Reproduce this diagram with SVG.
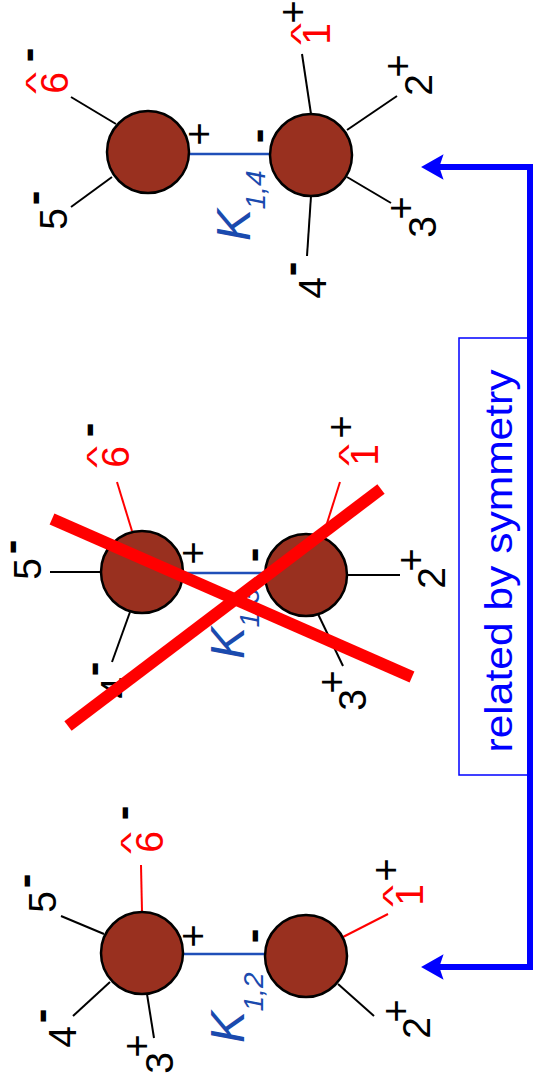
<svg xmlns="http://www.w3.org/2000/svg" width="533" height="1084" viewBox="0 0 533 1084">
<defs>
<style>
.blob{fill:#99301f;stroke:#000;stroke-width:2.5}
.leg{stroke:#000;stroke-width:2;fill:none}
.legr{stroke:#f00;stroke-width:2;fill:none}
.kline{stroke:#1f4fb8;stroke-width:2.5;fill:none}
.t{font-family:"Liberation Sans",Arial,sans-serif;text-anchor:middle;fill:#000}
.d{font-size:39px}
.red{fill:#f00}
.p{font-size:40px}
.m{font-size:44px;font-weight:bold}
.hat{font-size:36px;fill:#f00}
.K{font-size:48px;font-style:italic;fill:#1a4aae}
.sub{font-size:28px;font-style:italic;fill:#1a4aae}
.cross{stroke:#f00;stroke-width:12;stroke-linecap:butt}
.sym{font-size:38px;fill:#00f}
</style>
<marker id="ah" markerUnits="userSpaceOnUse" markerWidth="30" markerHeight="30" viewBox="-2 -14 26 28" refX="8" refY="0" orient="auto-start-reverse">
<path d="M21,0 L0,-12 L4,0 L0,12 Z" fill="#00f"/>
</marker>
</defs>
<rect width="533" height="1084" fill="#fff"/>

<g id="connectors">
<rect x="459" y="338" width="71" height="437" fill="#fff" stroke="#00f" stroke-width="1.5"/>
<path d="M435,167 H530 V967 H435" fill="none" stroke="#00f" stroke-width="6" marker-start="url(#ah)" marker-end="url(#ah)"/>
<line class="kline" x1="189" y1="154" x2="270" y2="154"/>
<line class="kline" x1="183" y1="573" x2="265" y2="573"/>
<line class="kline" x1="183" y1="954" x2="265" y2="954"/>
</g>
<text class="t sym" transform="translate(512,561) rotate(-90)" textLength="383" lengthAdjust="spacingAndGlyphs">related by symmetry</text>

<!-- Top diagram K1,4 -->
<g id="diagA">
<g id="A1">
<line class="leg" x1="71" y1="97" x2="116" y2="124"/>
<line class="leg" x1="71" y1="207" x2="112" y2="177"/>
<circle class="blob" cx="148" cy="152" r="41"/>
<text class="t d red" transform="translate(54,83) rotate(-90)" y="14">6</text>
<text class="t hat" transform="translate(31,83) rotate(-90) scale(1.3,0.75)" y="18">^</text>
<text class="t m" transform="translate(30,55) rotate(-90)" y="12">-</text>
<text class="t d" transform="translate(53,219) rotate(-90)" y="14">5</text>
<text class="t m" transform="translate(36,198) rotate(-90)" y="12">-</text>
<text class="t p" transform="translate(199,134) rotate(-90)" y="14">+</text>
</g>
<g id="A2">
<line class="leg" x1="302" y1="54" x2="311" y2="114"/>
<line class="leg" x1="347" y1="130" x2="397" y2="96"/>
<line class="leg" x1="347" y1="177" x2="391" y2="203"/>
<line class="leg" x1="311" y1="196" x2="307" y2="256"/>
<circle class="blob" cx="311" cy="155" r="41"/>
<text class="t d red" transform="translate(316,34) rotate(-90)" y="14">1</text>
<text class="t hat" transform="translate(296,34) rotate(-90) scale(1.3,0.75)" y="18">^</text>
<text class="t p" transform="translate(293,12) rotate(-90)" y="14">+</text>
<text class="t d" transform="translate(418,85) rotate(-90)" y="14">2</text>
<text class="t p" transform="translate(398,66) rotate(-90)" y="14">+</text>
<text class="t d" transform="translate(422,227) rotate(-90)" y="14">3</text>
<text class="t p" transform="translate(401,208) rotate(-90)" y="14">+</text>
<text class="t d" transform="translate(312,288) rotate(-90)" y="14">4</text>
<text class="t m" transform="translate(293,269) rotate(-90)" y="12">-</text>
<text class="t m" transform="translate(260,136) rotate(-90)" y="12">-</text>
</g>
<text class="t K" transform="translate(233,225) rotate(-90)" y="17">K</text>
<text class="t sub" transform="translate(255,190) rotate(-90)" y="10">1,4</text>
</g>

<!-- Middle diagram K1,3 crossed -->
<g id="diagB">
<g id="B1">
<line class="leg" x1="50" y1="572" x2="101" y2="572"/>
<line class="legr" x1="117" y1="482" x2="132" y2="531"/>
<line class="leg" x1="130" y1="612" x2="112" y2="662"/>
<circle class="blob" cx="142" cy="572" r="41"/>
<text class="t d" transform="translate(27,569) rotate(-90)" y="14">5</text>
<text class="t m" transform="translate(13,547) rotate(-90)" y="12">-</text>
<text class="t d red" transform="translate(115,457) rotate(-90)" y="14">6</text>
<text class="t hat" transform="translate(92,457) rotate(-90) scale(1.3,0.75)" y="18">^</text>
<text class="t m" transform="translate(90,430) rotate(-90)" y="12">-</text>
<text class="t d" transform="translate(114,688) rotate(-90)" y="14">4</text>
<text class="t m" transform="translate(95,669) rotate(-90)" y="12">-</text>
<text class="t p" transform="translate(193,553) rotate(-90)" y="14">+</text>
</g>
<g id="B2">
<line class="legr" x1="340" y1="482" x2="323" y2="536"/>
<line class="leg" x1="347" y1="575" x2="400" y2="575"/>
<line class="leg" x1="318" y1="614" x2="343" y2="666"/>
<circle class="blob" cx="306" cy="575" r="41"/>
<text class="t d red" transform="translate(364,455) rotate(-90)" y="14">1</text>
<text class="t hat" transform="translate(344,455) rotate(-90) scale(1.3,0.75)" y="18">^</text>
<text class="t p" transform="translate(341,427) rotate(-90)" y="14">+</text>
<text class="t d" transform="translate(431,578) rotate(-90)" y="14">2</text>
<text class="t p" transform="translate(411,560) rotate(-90)" y="14">+</text>
<text class="t d" transform="translate(352,700) rotate(-90)" y="14">3</text>
<text class="t p" transform="translate(332,682) rotate(-90)" y="14">+</text>
<text class="t m" transform="translate(255,555) rotate(-90)" y="12">-</text>
</g>
<text class="t K" transform="translate(227,643) rotate(-90)" y="17">K</text>
<text class="t sub" transform="translate(249,608) rotate(-90)" y="10">1,3</text>
<g id="cross">
<line class="cross" x1="52" y1="519" x2="412" y2="677"/>
<line class="cross" x1="68" y1="726" x2="381" y2="489"/>
</g>
</g>

<!-- Bottom diagram K1,2 -->
<g id="diagC">
<g id="C1">
<line class="legr" x1="141" y1="865" x2="142" y2="912"/>
<line class="leg" x1="61" y1="916" x2="104" y2="934"/>
<line class="leg" x1="73" y1="1016" x2="110" y2="982"/>
<line class="leg" x1="147" y1="994" x2="154" y2="1038"/>
<circle class="blob" cx="142" cy="953" r="41"/>
<text class="t d red" transform="translate(149,842) rotate(-90)" y="14">6</text>
<text class="t hat" transform="translate(126,843) rotate(-90) scale(1.3,0.75)" y="18">^</text>
<text class="t m" transform="translate(125,813) rotate(-90)" y="12">-</text>
<text class="t d" transform="translate(42,902) rotate(-90)" y="14">5</text>
<text class="t m" transform="translate(27,881) rotate(-90)" y="12">-</text>
<text class="t d" transform="translate(62,1037) rotate(-90)" y="14">4</text>
<text class="t m" transform="translate(43,1016) rotate(-90)" y="12">-</text>
<text class="t d" transform="translate(159,1063) rotate(-90)" y="14">3</text>
<text class="t p" transform="translate(137,1046) rotate(-90)" y="14">+</text>
<text class="t p" transform="translate(193,936) rotate(-90)" y="14">+</text>
</g>
<g id="C2">
<line class="legr" x1="343" y1="937" x2="388" y2="914"/>
<line class="leg" x1="338" y1="984" x2="374" y2="1016"/>
<circle class="blob" cx="306" cy="956" r="41"/>
<text class="t d red" transform="translate(409,895) rotate(-90)" y="14">1</text>
<text class="t hat" transform="translate(388,896) rotate(-90) scale(1.3,0.75)" y="18">^</text>
<text class="t p" transform="translate(386,870) rotate(-90)" y="14">+</text>
<text class="t d" transform="translate(416,1028) rotate(-90)" y="14">2</text>
<text class="t p" transform="translate(396,1011) rotate(-90)" y="14">+</text>
<text class="t m" transform="translate(255,936) rotate(-90)" y="12">-</text>
</g>
<text class="t K" transform="translate(227,1027) rotate(-90)" y="17">K</text>
<text class="t sub" transform="translate(253,992) rotate(-90)" y="10">1,2</text>
</g>
</svg>
